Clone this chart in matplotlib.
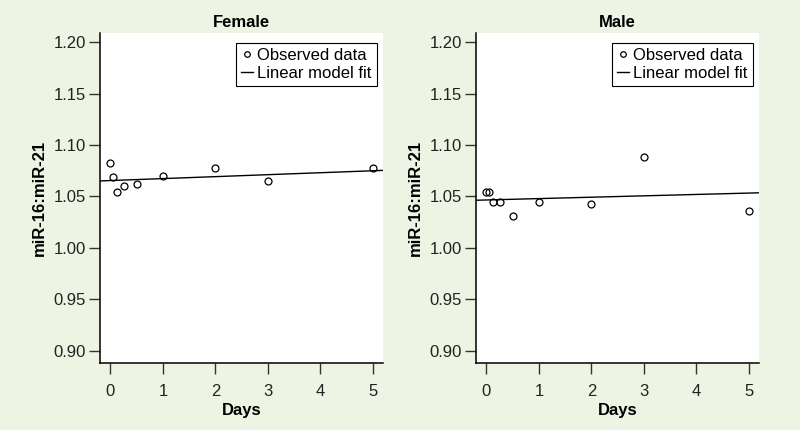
import numpy as np
import matplotlib
matplotlib.use("Agg")
import matplotlib.pyplot as plt
from matplotlib.lines import Line2D

plt.rcParams['font.family'] = ['Liberation Sans', 'DejaVu Sans']

# data
days = [0, 0.042, 0.125, 0.25, 0.5, 1, 2, 3, 5]
female_ratio = [1.0827, 1.0687, 1.0542, 1.0600, 1.0620, 1.0704, 1.0775, 1.0652, 1.0779]
male_ratio = [1.0542, 1.0542, 1.0445, 1.0445, 1.0313, 1.0449, 1.0429, 1.0882, 1.0357]
female_fit = (1.0655, 0.0019)   # intercept, slope
male_fit = (1.0466, 0.00134)
yticks = [0.90, 0.95, 1.00, 1.05, 1.10, 1.15, 1.20]
xticks = [0, 1, 2, 3, 4, 5]

bg = '#eef4e3'
fontsz = 12

fig = plt.figure(figsize=(8, 4.3), dpi=100, facecolor=bg)
ax1 = fig.add_axes([0.125, 0.1558, 0.354, 0.7674])
ax2 = fig.add_axes([0.595, 0.1558, 0.354, 0.7674])

panels = [(ax1, "Female", female_ratio, female_fit), (ax2, "Male", male_ratio, male_fit)]

for ax, title, vals, fit in panels:
    ax.set_facecolor('white')
    ax.plot(days, vals, 'o', mfc='none', mec='black', ms=5, mew=0.9)
    ax.axline((0, fit[0]), slope=fit[1], color='black', lw=1)
    ax.set_xlim(-0.2, 5.2)
    ax.set_ylim(0.888, 1.209)
    ax.set_xticks(xticks)
    ax.set_yticks(yticks)
    ax.set_yticklabels(["%.2f" % v for v in yticks])
    for s in ['top', 'right']:
        ax.spines[s].set_visible(False)
    for s in ['left', 'bottom']:
        ax.spines[s].set_linewidth(1.1)
    ax.tick_params(axis='both', length=8, width=1, color='#333333',
                   labelsize=fontsz, labelcolor='#222222')
    ax.tick_params(axis='x', pad=7)
    ax.tick_params(axis='y', pad=2)
    ax.set_title(title, fontsize=fontsz, fontweight='bold', pad=4)
    ax.set_xlabel("Days", fontsize=fontsz, fontweight='bold', labelpad=3)
    ax.set_ylabel("miR-16:miR-21", fontsize=fontsz, fontweight='bold', labelpad=5)
    handles = [Line2D([], [], ls='none', marker='o', mfc='none', mec='black', ms=4, mew=0.9),
               Line2D([], [], color='black', lw=1)]
    leg = ax.legend(handles, ["Observed data", "Linear model fit"], loc='upper right',
                    bbox_to_anchor=(0.977, 0.97), borderaxespad=0, fontsize=fontsz,
                    handlelength=0.7, handletextpad=0.25, borderpad=0.3, labelspacing=0.2,
                    fancybox=False, framealpha=1, edgecolor='black')
    leg.get_frame().set_linewidth(0.8)

fig.savefig("out.png", dpi=100, facecolor=bg)
